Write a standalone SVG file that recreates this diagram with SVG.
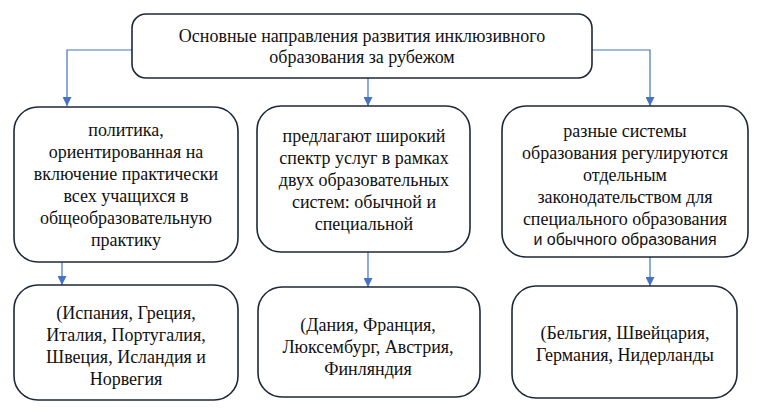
<svg xmlns="http://www.w3.org/2000/svg" width="758" height="412" viewBox="0 0 758 412">
<defs>
<marker id="ah" viewBox="0 0 10 10" refX="10" refY="5" markerWidth="9" markerHeight="9" markerUnits="userSpaceOnUse" orient="auto">
<path d="M0,0 L10,5 L0,10 z" fill="#4472c4"/>
</marker>
</defs>
<style>
.box{fill:#fff;stroke:#1e2838;stroke-width:1.6}
.c{fill:none;stroke:#4472c4;stroke-width:1.2;marker-end:url(#ah)}
text{font-family:"Liberation Serif","Times New Roman",serif;font-size:18px;fill:#111;text-anchor:middle}
text.s{font-family:"Liberation Sans",Arial,sans-serif;font-size:16px}
</style>
<rect width="758" height="412" fill="#fff"/>
<g id="connectors">
<path class="c" d="M132,50 H67 V106"/>
<path class="c" d="M368,78 V106"/>
<path class="c" d="M592,50 H650 V106"/>
<path class="c" d="M62,262 V285"/>
<path class="c" d="M368,252 V287"/>
<path class="c" d="M650,257 V286"/>
</g>
<g id="top">
<rect class="box" x="132" y="14" width="460" height="64" rx="14"/>
<text x="362" y="42">Основные направления развития инклюзивного</text>
<text x="362" y="63">образования за рубежом</text>
</g>
<g id="n1">
<rect class="box" x="14" y="107" width="224" height="155" rx="24"/>
<text x="126" y="136">политика,</text>
<text x="126" y="158">ориентированная на</text>
<text x="126" y="180">включение практически</text>
<text x="126" y="202">всех учащихся в</text>
<text x="126" y="224">общеобразовательную</text>
<text x="126" y="246">практику</text>
</g>
<g id="n2">
<rect class="box" x="257" y="106" width="213" height="146" rx="24"/>
<text x="364" y="142">предлагают широкий</text>
<text x="364" y="164">спектр услуг в рамках</text>
<text x="364" y="186">двух образовательных</text>
<text x="364" y="208">систем: обычной и</text>
<text x="364" y="230">специальной</text>
</g>
<g id="n3">
<rect class="box" x="502" y="106" width="246" height="151" rx="24"/>
<text x="625" y="137">разные системы</text>
<text x="625" y="159">образования регулируются</text>
<text x="625" y="181">отдельным</text>
<text x="625" y="203">законодательством для</text>
<text x="625" y="225">специального образования</text>
<text class="s" x="625" y="245">и обычного образования</text>
</g>
<g id="n4">
<rect class="box" x="14" y="285" width="224" height="115" rx="24"/>
<text x="126" y="319">(Испания, Греция,</text>
<text x="126" y="341">Италия, Португалия,</text>
<text x="126" y="363">Швеция, Исландия и</text>
<text x="126" y="385">Норвегия</text>
</g>
<g id="n5">
<rect class="box" x="258" y="287" width="222" height="110" rx="24"/>
<text x="368" y="331">(Дания, Франция,</text>
<text x="368" y="353">Люксембург, Австрия,</text>
<text x="368" y="375">Финляндия</text>
</g>
<g id="n6">
<rect class="box" x="512" y="286" width="225" height="112" rx="24"/>
<text x="625" y="339">(Бельгия, Швейцария,</text>
<text x="625" y="361">Германия, Нидерланды</text>
</g>
</svg>
